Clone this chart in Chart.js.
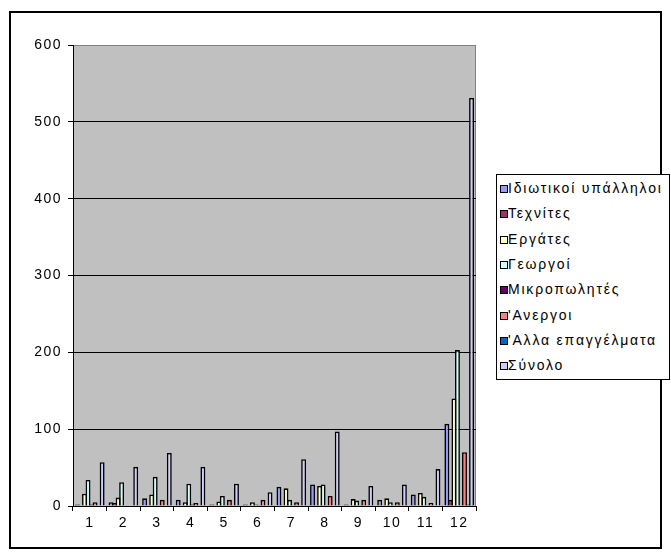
<!DOCTYPE html>
<html>
<head>
<meta charset="utf-8">
<script src="https://cdn.jsdelivr.net/npm/chart.js@4.4.0/dist/chart.umd.min.js"></script>
<style>
    body { margin: 0; background: #fff; }
    #wrap { position: relative; width: 671px; height: 558px; overflow: hidden; }
    #frame { position: absolute; left: 9px; top: 11px; width: 653px; height: 538px; border: 2px solid #000; box-sizing: border-box; }
    #chart { position: absolute; left: 0; top: 0; }
    #legend { position: absolute; left: 496px; top: 174px; width: 174px; height: 206px; border: 1px solid #000;
              background: #fff; box-sizing: border-box; font: 14px Arial, "Liberation Sans", sans-serif; letter-spacing: 1.8px; }
    .item { position: absolute; left: 3px; height: 16px; line-height: 16px; white-space: nowrap; color: #000; }
    .sw { display: inline-block; width: 6px; height: 6px; border: 1px solid #000; margin-right: 0; vertical-align: 0; }
</style>
</head>
<body>
<div id="wrap">
    <div id="frame"></div>
    <canvas id="chart" width="671" height="558"></canvas>
    <div id="legend"></div>
</div>
<script>
// Categories and series
const categories = ['1', '2', '3', '4', '5', '6', '7', '8', '9', '10', '11', '12'];
const seriesNames = ['Ιδιωτικοί υπάλληλοι', 'Τεχνίτες', 'Εργάτες', 'Γεωργοί', 'Μικροπωλητές', "'Ανεργοι", "'Αλλα επαγγέλματα", 'Σύνολο'];
const seriesColors = ['#9999FF', '#993366', '#FFFFCC', '#CCFFFF', '#660066', '#FF8080', '#0066CC', '#CCCCFF'];

const privateEmployees = [2, 5, 10, 8, 2, 2, 25, 28, 2, 8, 15, 107];
const craftsmen        = [0, 4, 0, 0, 0, 0, 0, 1, 0, 0, 0, 8];
const workers          = [16, 11, 15, 5, 6, 5, 23, 26, 9, 10, 17, 140];
const farmers          = [34, 31, 38, 29, 13, 2, 8, 28, 7, 5, 12, 203];
const vendors          = [2, 0, 0, 2, 1, 1, 0, 0, 1, 0, 0, 1];
const unemployed       = [5, 0, 8, 4, 8, 8, 5, 13, 8, 5, 4, 70];
const otherJobs        = [0, 0, 0, 0, 0, 0, 0, 0, 0, 0, 0, 2];
const totals           = [57, 51, 69, 51, 29, 18, 61, 97, 26, 28, 48, 531];

const yTicks = [0, 100, 200, 300, 400, 500, 600];

const seriesValues = [privateEmployees, craftsmen, workers, farmers, vendors, unemployed, otherJobs, totals];

// Gray plot area with a gray frame on top/right, like the old Excel look
const plotArea = {
    id: 'plotArea',
    beforeDraw(chart) {
        const { ctx, chartArea: a } = chart;
        ctx.save();
        ctx.fillStyle = '#C0C0C0';
        ctx.fillRect(a.left, a.top, a.right - a.left, a.bottom - a.top);
        ctx.strokeStyle = '#808080';
        ctx.lineWidth = 1;
        ctx.beginPath();
        ctx.moveTo(a.left, a.top + 0.5);
        ctx.lineTo(a.right - 0.5, a.top + 0.5);
        ctx.lineTo(a.right - 0.5, a.bottom);
        ctx.stroke();
        ctx.restore();
        ctx.letterSpacing = '1.5px';
    }
};

const tickFont = { family: 'Arial, "Liberation Sans", sans-serif', size: 14 };

new Chart(document.getElementById('chart'), {
    type: 'bar',
    data: {
        labels: categories,
        datasets: seriesNames.map((name, i) => ({
            label: name,
            data: seriesValues[i],
            backgroundColor: seriesColors[i],
            borderColor: '#000',
            borderWidth: 1.6,
            borderSkipped: 'bottom',
            categoryPercentage: 0.84,
            barPercentage: 1.4
        }))
    },
    options: {
        responsive: false,
        animation: false,
        devicePixelRatio: 1,
        layout: { padding: { left: 0, top: 45, right: 195, bottom: 0 } },
        plugins: {
            legend: { display: false },
            tooltip: { enabled: false }
        },
        scales: {
            x: {
                afterFit: (s) => { s.height = 52; },
                grid: {
                    offset: true,
                    drawOnChartArea: false,
                    drawTicks: true,
                    tickLength: 5,
                    tickColor: '#000'
                },
                border: { color: '#000', width: 1 },
                ticks: { color: '#000', font: tickFont, padding: 4, maxRotation: 0 }
            },
            y: {
                min: 0,
                max: 600,
                afterFit: (s) => { s.width = 73; },
                afterBuildTicks: (s) => { s.ticks = yTicks.map(v => ({ value: v })); },
                grid: {
                    color: (c) => (c.tick && c.tick.value === 600 ? '#808080' : '#000'),
                    lineWidth: 1,
                    tickLength: 5,
                    tickColor: '#000'
                },
                border: { color: '#000', width: 1 },
                ticks: { color: '#000', font: tickFont, padding: 6 }
            }
        }
    },
    plugins: [plotArea]
});

// Legend box, built from the same series arrays
const legend = document.getElementById('legend');
seriesNames.forEach((name, i) => {
    const item = document.createElement('div');
    item.className = 'item';
    item.style.top = (5 + i * 25.3) + 'px';
    const sw = document.createElement('span');
    sw.className = 'sw';
    sw.style.background = seriesColors[i];
    item.appendChild(sw);
    item.appendChild(document.createTextNode(name));
    legend.appendChild(item);
});
</script>
</body>
</html>
